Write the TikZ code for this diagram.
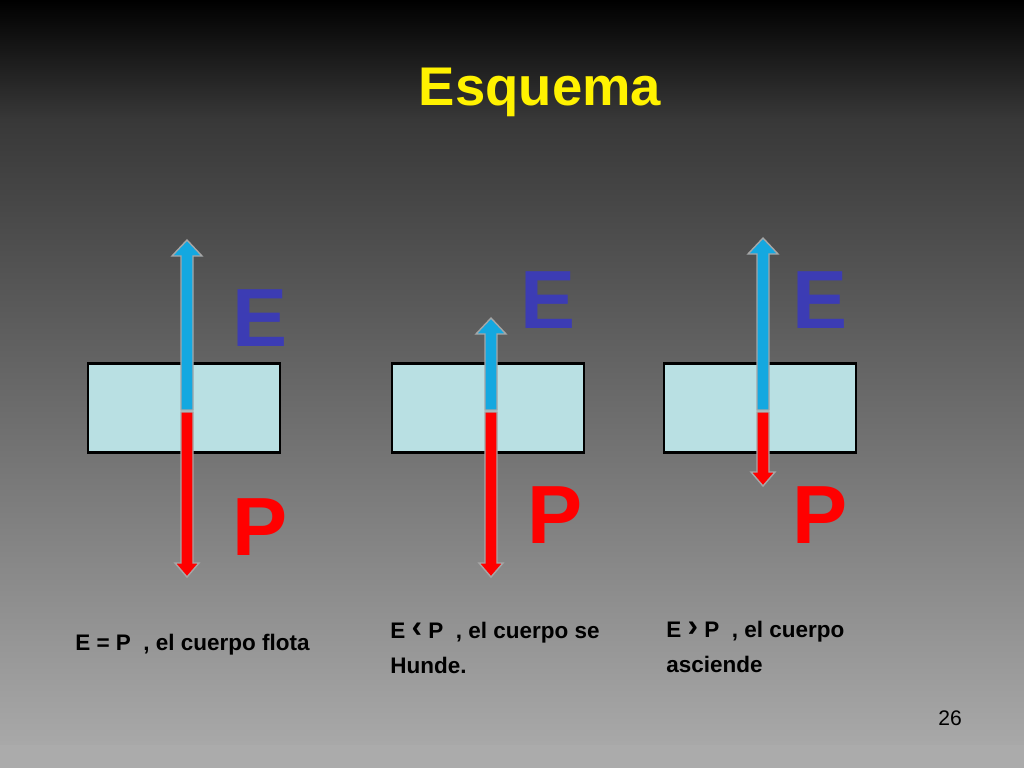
\documentclass[tikz,border=0pt]{standalone}
\usepackage{fontspec}
\setmainfont{Liberation Sans}
\usetikzlibrary{positioning}
\definecolor{boxfill}{HTML}{B9E0E3}
\definecolor{upblue}{HTML}{14A8E0}
\definecolor{letterblue}{HTML}{3C3CB4}
\tikzset{
  body/.style={draw=black, line width=1.2pt, fill=boxfill},
  bigletter/.style={font=\fontsize{47}{47}\selectfont\bfseries, inner sep=0pt},
  caption/.style={font=\fontsize{12.8}{20}\selectfont\bfseries, text=black, anchor=west, align=left, inner sep=0pt}
}
% x, top tip, junction, bottom tip
\newcommand{\forcepair}[4]{%
  \filldraw[fill=upblue, draw=gray!70, line width=0.8pt]
    (#1-6,#3) -- (#1-6,#2+16) -- (#1-15,#2+16) -- (#1,#2) -- (#1+15,#2+16)
    -- (#1+6,#2+16) -- (#1+6,#3) -- cycle;
  \filldraw[fill=red, draw=gray!70, line width=0.8pt]
    (#1-6,#3+2) -- (#1-6,#4-14) -- (#1-12,#4-14) -- (#1,#4) -- (#1+12,#4-14)
    -- (#1+6,#4-14) -- (#1+6,#3+2) -- cycle;
}
\newcommand{\chev}[1]{\raisebox{0.5pt}{\fontsize{18}{18}\selectfont #1}}
\begin{document}
\begin{tikzpicture}[x=0.02cm, y=-0.02cm]
  \shade[top color=black, bottom color=black!78] (0,0) rectangle (1024,120);
  \shade[top color=black!78, bottom color=black!34] (0,120) rectangle (1024,745);
  \fill[black!33] (0,745) rectangle (1024,768);
  \useasboundingbox (0,0) rectangle (1024,768);

  \node[font=\fontsize{31}{31}\selectfont\bfseries, text=yellow] (title) at (540,92) {Esquema};

  % bodies
  \node[body, minimum width=3.84cm, minimum height=1.78cm] (body1) at (184,408) {};
  \node[body, minimum width=3.84cm, minimum height=1.78cm] (body2) at (488,408) {};
  \node[body, minimum width=3.84cm, minimum height=1.78cm] (body3) at (760,408) {};

  % forces
  \forcepair{187}{240}{410}{577}
  \forcepair{491}{318}{410}{577}
  \forcepair{763}{238}{410}{486}

  \node[bigletter, text=letterblue, draw=black!60!blue, line width=0pt, draw opacity=0] (E1) at (260,318) {E};
  \node[bigletter, text=red] (P1) at (260,527) {P};
  \node[bigletter, text=letterblue] (E2) at (548,300) {E};
  \node[bigletter, text=red] (P2) at (555,515) {P};
  \node[bigletter, text=letterblue] (E3) at (820,300) {E};
  \node[bigletter, text=red] (P3) at (820,515) {P};

  \node[caption] (cap1) at (75,645) {E = P\ \ , el cuerpo flota};
  \node[caption] (cap2) at (390,648) {E \chev{‹} P\ \ , el cuerpo se\\Hunde.};
  \node[caption] (cap3) at (666,647) {E \chev{›} P\ \ , el cuerpo\\asciende};

  \node[font=\fontsize{12}{12}\selectfont, text=black] (page) at (950,718) {26};
\end{tikzpicture}
\end{document}
